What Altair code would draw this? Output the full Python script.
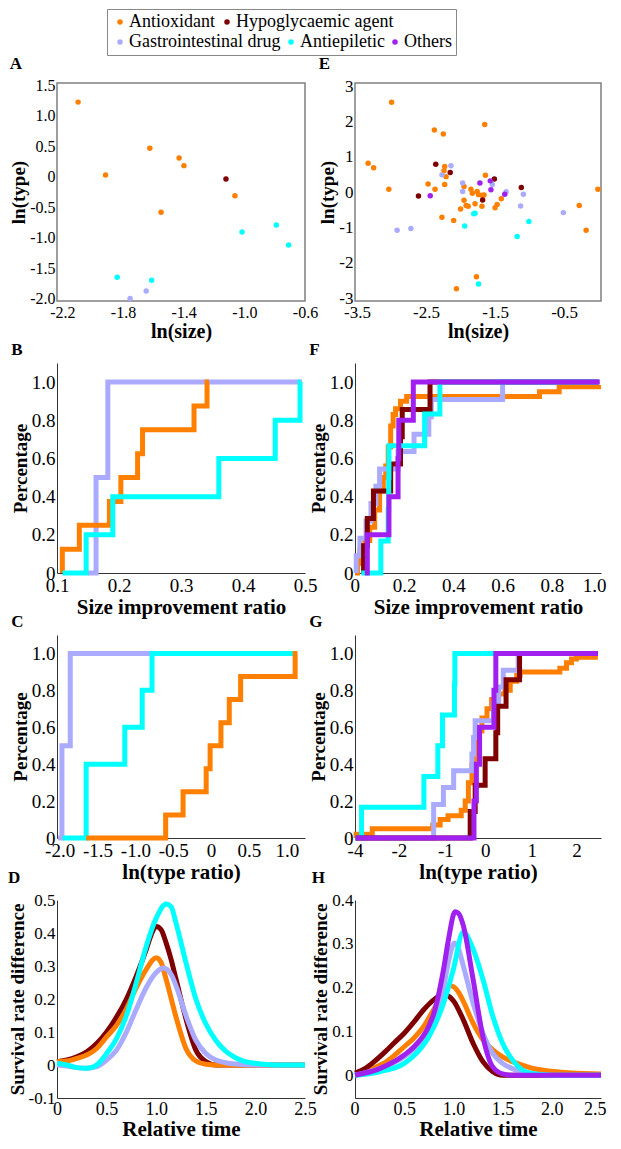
import altair as alt
import pandas as pd

FONT = "Liberation Serif"

# ---------------- categories / colours ----------------
ROW1_CATS = ["Antioxidant", "Hypoglycaemic agent"]
ROW1_COLORS = ["#FF7F00", "#7F0000"]
ROW2_CATS = ["Gastrointestinal drug", "Antiepiletic", "Others"]
ROW2_COLORS = ["#AAAAFF", "#00FFFF", "#A020F0"]

# ---------------- panel A (scatter) ----------------
A_CAT = ["Antioxidant"] * 7 + ["Hypoglycaemic agent"] + ["Antiepiletic"] * 5 + ["Gastrointestinal drug"] * 2
A_X = [-2.096, -1.915, -1.623, -1.43, -1.398, -1.549, -1.062,
       -1.121,
       -1.015, -0.789, -0.708, -1.838, -1.611,
       -1.647, -1.753]
A_Y = [1.226, 0.03, 0.469, 0.31, 0.183, -0.584, -0.31,
       -0.036,
       -0.908, -0.793, -1.122, -1.649, -1.698,
       -1.874, -2.0]

# ---------------- panel E (scatter) ----------------
E_CAT = (["Antioxidant"] * 37 + ["Hypoglycaemic agent"] * 6 + ["Gastrointestinal drug"] * 11
         + ["Others"] * 5 + ["Antiepiletic"] * 6)
E_X = [-3.00, -1.65, -2.38, -2.25, -3.34, -3.26, -2.23, -2.24, -2.21, -1.64, -2.47, -2.37, -2.23,
       -3.04, -1.95, -1.85, -1.83, -1.76, -1.74, -1.69, -1.66, -1.95, -1.92, -1.89, -1.79, -1.69,
       -1.41, -1.47, -1.50, -2.00, -2.27, -2.10, -0.28, -0.18, -0.01, -1.77, -2.06,
       -2.36, -2.15, -2.61, -1.51, -1.12, -1.68,
       -2.14, -2.27, -1.97, -1.97, -1.54, -1.34, -1.09, -1.13, -0.51, -2.92, -2.72,
       -1.72, -1.57, -1.56, -1.36, -2.44,
       -1.81, -1.79, -1.94, -1.01, -1.18, -1.74]
E_Y = [2.55, 1.92, 1.76, 1.65, 0.82, 0.69, 0.73, 0.61, 0.44, 0.48, 0.23, 0.08, 0.22,
       0.08, 0.16, 0.08, -0.03, 0.02, -0.07, -0.09, -0.08, -0.23, -0.38, -0.40, -0.33, -0.40,
       -0.19, -0.35, -0.44, -0.48, -0.71, -0.80, -0.38, -1.08, 0.08, -2.40, -2.74,
       0.79, 0.56, -0.11, 0.37, 0.13, -0.22,
       0.75, 0.49, 0.26, 0.02, 0.22, 0.01, -0.06, -0.39, -0.58, -1.08, -1.03,
       0.26, 0.32, 0.07, -0.06, -0.10,
       -0.61, -0.60, -0.96, -0.83, -1.26, -2.60]

# ---------------- panel B (cumulative steps) ----------------
B_SERIES = [
    ("Gastrointestinal drug", [0.15, 0.163, 0.182, 0.495], [0, 0.5, 1.0, 1.0]),
    ("Antioxidant", [0.1086, 0.1086, 0.136, 0.1845, 0.203, 0.23, 0.238, 0.321, 0.342, 0.345],
     [0, 0.125, 0.25, 0.375, 0.5, 0.625, 0.75, 0.875, 1.0, 1.0]),
    ("Antiepiletic", [0.109, 0.147, 0.19, 0.361, 0.452, 0.492, 0.493], [0, 0.2, 0.4, 0.6, 0.8, 1.0, 1.0]),
]

# ---------------- panel F ----------------
F_SERIES = [
    ("Antioxidant", [0, 0.01, 0.02, 0.04, 0.06, 0.08, 0.1, 0.115, 0.125, 0.135, 0.145, 0.155, 0.165,
                     0.185, 0.21, 0.75, 0.83, 0.99],
     [0, 0.05, 0.12, 0.17, 0.24, 0.33, 0.43, 0.5, 0.56, 0.66, 0.77, 0.83, 0.86, 0.9, 0.925, 0.95, 0.975, 0.985]),
    ("Gastrointestinal drug", [0.005, 0.005, 0.02, 0.045, 0.065, 0.085, 0.1, 0.175, 0.24, 0.3, 0.31, 0.6, 0.99],
     [0, 0.091, 0.182, 0.273, 0.364, 0.455, 0.545, 0.636, 0.727, 0.818, 0.909, 1.0, 1.0]),
    ("Hypoglycaemic agent", [0.035, 0.035, 0.05, 0.075, 0.145, 0.185, 0.192, 0.305, 0.99],
     [0, 0.143, 0.286, 0.429, 0.571, 0.714, 0.857, 1.0, 1.0]),
    ("Antiepiletic", [0.026, 0.105, 0.135, 0.137, 0.138, 0.283, 0.345, 0.99],
     [0, 0.167, 0.333, 0.5, 0.667, 0.833, 1.0, 1.0]),
    ("Others", [0.04, 0.05, 0.138, 0.175, 0.178, 0.237, 0.995], [0, 0.2, 0.4, 0.6, 0.8, 1.0, 1.0]),
]

# ---------------- panel C ----------------
C_SERIES = [
    ("Gastrointestinal drug", [-2.02, -1.97, -1.86, 1.13], [0, 0.5, 1.0, 1.0]),
    ("Antiepiletic", [-1.96, -1.65, -1.14, -0.91, -0.78, 1.13], [0, 0.4, 0.6, 0.8, 1.0, 1.0]),
    ("Antioxidant", [-1.65, -0.6, -0.37, -0.065, -0.013, 0.13, 0.24, 0.39, 1.11, 1.14],
     [0, 0.125, 0.25, 0.375, 0.5, 0.625, 0.75, 0.875, 1.0, 1.0]),
]

# ---------------- panel G ----------------
G_SERIES = [
    ("Antioxidant", [-3.97, -3.95, -3.21, -1.27, -1.11, -0.93, -0.6, -0.5, -0.42, -0.33, -0.25, -0.17, -0.08,
                     0.04, 0.14, 0.29, 0.43, 0.54, 0.68, 0.75, 1.63, 1.78, 1.89, 2.0, 2.48],
     [0, 0.02, 0.05, 0.07, 0.1, 0.12, 0.15, 0.2, 0.3, 0.4, 0.5, 0.58, 0.65, 0.7, 0.75, 0.78, 0.8, 0.85,
      0.88, 0.9, 0.92, 0.95, 0.97, 0.98, 0.98]),
    ("Gastrointestinal drug", [-3.97, -1.25, -1.04, -0.79, -0.33, -0.29, -0.25, 0.18, 0.29, 0.39, 0.71, 2.48],
     [0, 0.182, 0.273, 0.364, 0.455, 0.545, 0.636, 0.727, 0.818, 0.909, 1.0, 1.0]),
    ("Antiepiletic", [-3.97, -3.7, -1.46, -1.16, -1.06, -0.77, -0.76, 2.48],
     [0, 0.167, 0.333, 0.5, 0.667, 0.833, 1.0, 1.0]),
    ("Hypoglycaemic agent", [-3.97, -0.375, -0.25, 0.0, 0.23, 0.27, 0.45, 0.74, 2.48],
     [0, 0.143, 0.286, 0.429, 0.571, 0.714, 0.857, 1.0, 1.0]),
    ("Others", [-3.97, -0.28, -0.22, -0.14, 0.19, 0.23, 2.48], [0, 0.2, 0.4, 0.6, 0.8, 1.0, 1.0]),
]

# ---------------- panel D (smooth curves) ----------------
D_SERIES = [
    ("Hypoglycaemic agent",
     [0, 0.1, 0.2, 0.3, 0.4, 0.5, 0.6, 0.7, 0.8, 0.9, 0.95, 1.0, 1.05, 1.1, 1.15, 1.2, 1.3, 1.4, 1.5, 1.6, 1.8, 2.5],
     [0.01, 0.015, 0.025, 0.04, 0.065, 0.1, 0.145, 0.2, 0.27, 0.35, 0.395, 0.42, 0.41, 0.37, 0.32, 0.26, 0.14,
      0.045, 0.01, 0.0, 0.0, 0.0]),
    ("Antioxidant",
     [0, 0.1, 0.2, 0.3, 0.4, 0.5, 0.6, 0.7, 0.8, 0.9, 1.0, 1.05, 1.1, 1.2, 1.3, 1.4, 1.5, 1.6, 2.5],
     [0.01, 0.012, 0.02, 0.03, 0.05, 0.085, 0.12, 0.17, 0.235, 0.29, 0.325, 0.31, 0.26, 0.145, 0.05, 0.012,
      0.002, 0.0, 0.0]),
    ("Gastrointestinal drug",
     [0, 0.1, 0.2, 0.3, 0.4, 0.5, 0.6, 0.7, 0.8, 0.9, 1.0, 1.07, 1.15, 1.2, 1.3, 1.4, 1.5, 1.6, 1.7, 1.8, 2.0, 2.5],
     [0.0, -0.003, -0.008, -0.01, -0.005, 0.015, 0.045, 0.1, 0.17, 0.235, 0.28, 0.294, 0.275, 0.24, 0.15, 0.075,
      0.035, 0.015, 0.007, 0.003, 0.0, 0.0]),
    ("Antiepiletic",
     [0, 0.1, 0.2, 0.3, 0.4, 0.5, 0.6, 0.7, 0.8, 0.9, 1.0, 1.1, 1.15, 1.2, 1.3, 1.4, 1.5, 1.6, 1.7, 1.8, 1.9,
      2.0, 2.2, 2.5],
     [0.005, 0.0, -0.008, -0.01, 0.0, 0.035, 0.08, 0.15, 0.25, 0.36, 0.445, 0.488, 0.48, 0.43, 0.31, 0.2, 0.125,
      0.075, 0.042, 0.022, 0.01, 0.005, 0.0, 0.0]),
]

# ---------------- panel H ----------------
H_SERIES = [
    ("Antioxidant",
     [0, 0.1, 0.2, 0.3, 0.4, 0.5, 0.6, 0.7, 0.8, 0.9, 0.97, 1.05, 1.1, 1.2, 1.3, 1.4, 1.5, 1.6, 1.7, 1.8, 2.0,
      2.2, 2.5],
     [0.005, 0.008, 0.018, 0.028, 0.045, 0.065, 0.085, 0.112, 0.15, 0.188, 0.204, 0.19, 0.169, 0.119, 0.081,
      0.058, 0.042, 0.031, 0.023, 0.016, 0.009, 0.005, 0.003]),
    ("Hypoglycaemic agent",
     [0, 0.1, 0.2, 0.3, 0.4, 0.5, 0.6, 0.7, 0.8, 0.9, 1.0, 1.1, 1.2, 1.3, 1.4, 1.5, 2.5],
     [0.005, 0.015, 0.032, 0.052, 0.074, 0.096, 0.122, 0.15, 0.172, 0.185, 0.17, 0.127, 0.073, 0.031, 0.008,
      0.0, 0.0]),
    ("Gastrointestinal drug",
     [0, 0.25, 0.5, 0.6, 0.7, 0.8, 0.9, 0.95, 1.01, 1.05, 1.1, 1.2, 1.3, 1.4, 1.5, 1.6, 1.7, 2.0, 2.5],
     [0.0, 0.015, 0.042, 0.06, 0.085, 0.13, 0.2, 0.26, 0.302, 0.29, 0.25, 0.165, 0.096, 0.05, 0.027, 0.015,
      0.008, 0.0, 0.0]),
    ("Antiepiletic",
     [0, 0.25, 0.5, 0.6, 0.75, 0.9, 1.0, 1.1, 1.2, 1.3, 1.4, 1.5, 1.6, 1.7, 1.8, 2.0, 2.5],
     [0.0, 0.008, 0.027, 0.045, 0.088, 0.165, 0.242, 0.327, 0.288, 0.219, 0.135, 0.073, 0.035, 0.012, 0.004,
      0.0, 0.0]),
    ("Others",
     [0, 0.25, 0.5, 0.6, 0.75, 0.8, 0.9, 0.95, 1.017, 1.05, 1.1, 1.2, 1.3, 1.4, 1.5, 1.6, 2.5],
     [0.0, 0.015, 0.046, 0.065, 0.112, 0.14, 0.242, 0.31, 0.373, 0.37, 0.342, 0.219, 0.088, 0.019, 0.003, 0.0,
      0.0]),
]

# ---------------- tick values ----------------
A_XTICKS = [-2.2, -1.8, -1.4, -1.0, -0.6]
A_YTICKS = [-2.0, -1.5, -1.0, -0.5, 0, 0.5, 1.0, 1.5]
E_XTICKS = [-3.5, -2.5, -1.5, -0.5]
E_YTICKS = [-3, -2, -1, 0, 1, 2, 3]
B_XTICKS = [0.1, 0.2, 0.3, 0.4, 0.5]
F_XTICKS = [0, 0.2, 0.4, 0.6, 0.8, 1.0]
PCT_TICKS = [0, 0.2, 0.4, 0.6, 0.8, 1.0]
C_XTICKS = [-2.0, -1.5, -1.0, -0.5, 0, 0.5, 1.0]
G_XTICKS = [-4, -2, -1, 0, 1, 2]
T_XTICKS = [0, 0.5, 1.0, 1.5, 2.0, 2.5]
D_YTICKS = [-0.1, 0, 0.1, 0.2, 0.3, 0.4, 0.5]
H_YTICKS = [0, 0.1, 0.2, 0.3, 0.4]

# G axis in the figure is not evenly spaced: break points of its scale
G_BREAKS = [-4, -2, -1, 0, 1, 2, 2.55]
G_FRACS = [0, 0.178, 0.367, 0.529, 0.718, 0.9, 1.0]

W1, W2 = 248, 246

ALL_CATS = ROW1_CATS + ROW2_CATS
ALL_COLORS = ROW1_COLORS + ROW2_COLORS
STROKE_SCALE = alt.Scale(domain=ALL_CATS, range=ALL_COLORS)


def axis(title, values, fmt, lsize=18, tsize=20, domain=True, tpad=1, lpad=2, flush=False):
    extra = dict(labelFlush=True, labelFlushOffset=5) if flush else dict(labelFlush=False)
    return alt.Axis(
        title=title, values=values,
        labelExpr=("datum.value == 0 ? '0' : (datum.value < 0 ? '-' : '') + format(abs(datum.value), '%s')" % fmt),
        ticks=False, grid=False, domain=domain, domainColor="#333333", domainWidth=1,
        labelFont=FONT, labelFontSize=lsize, labelColor="black", labelPadding=lpad,
        labelOverlap=False,
        titleFont=FONT, titleFontSize=tsize, titleFontWeight="bold", titleColor="black", titlePadding=tpad,
        **extra)


def letter(t):
    return alt.TitleParams(text=t, anchor="start", frame="bounds", font=FONT, fontSize=17,
                           fontWeight="bold", color="black", offset=4)


def lin(dom):
    return alt.Scale(domain=dom, nice=False, zero=False)


LX, LY = 50, -74
LEG_COMMON = dict(orient="none", legendX=LX, legendY=LY, direction="horizontal", symbolType="circle",
                  symbolSize=30, symbolStrokeWidth=0, labelFont=FONT, labelFontSize=18,
                  labelColor="black", labelOffset=0, padding=4)
LEG1 = alt.Legend(title=None, columnPadding=3, **LEG_COMMON)
LEG2 = alt.Legend(title=" ", titleFont=FONT, titleFontSize=18, titlePadding=2, columnPadding=1,
                  strokeColor="#888888", **LEG_COMMON)


def scatter(cats, xs, ys, xscale, yscale, xaxis, yaxis, w, h, lab, with_legend=False):
    df = pd.DataFrame({"cat": cats, "x": xs, "y": ys})
    d1 = df[df["cat"].isin(ROW1_CATS)]
    d2 = df[df["cat"].isin(ROW2_CATS)]
    p1 = alt.Chart(d1).mark_circle(size=30, opacity=1).encode(
        x=alt.X("x:Q", scale=xscale, axis=xaxis),
        y=alt.Y("y:Q", scale=yscale, axis=yaxis),
        color=alt.Color("cat:N", scale=alt.Scale(domain=ROW1_CATS, range=ROW1_COLORS),
                        legend=LEG1 if with_legend else None),
    )
    p2 = alt.Chart(d2).mark_circle(size=30, opacity=1).encode(
        x=alt.X("x:Q", scale=xscale, axis=xaxis),
        y=alt.Y("y:Q", scale=yscale, axis=yaxis),
        fill=alt.Fill("cat:N", scale=alt.Scale(domain=ROW2_CATS, range=ROW2_COLORS),
                      legend=LEG2 if with_legend else None),
    )
    return alt.layer(p1, p2).properties(width=w, height=h, title=letter(lab),
                                        view=alt.ViewBackground(stroke="#808080", strokeWidth=1.5))


def lines(series, interp, xscale, yscale, xaxis, yaxis, w, h, lab):
    layers = []
    for cat, xs, ys in series:
        df = pd.DataFrame({"cat": [cat] * len(xs), "x": xs, "y": ys})
        layers.append(alt.Chart(df).mark_line(interpolate=interp, strokeWidth=5).encode(
            x=alt.X("x:Q", scale=xscale, axis=xaxis),
            y=alt.Y("y:Q", scale=yscale, axis=yaxis),
            stroke=alt.Stroke("cat:N", scale=STROKE_SCALE, legend=None),
        ))
    return alt.layer(*layers).properties(width=w, height=h, title=letter(lab))


A = scatter(A_CAT, A_X, A_Y, lin([-2.235, -0.6]), lin([-2.04, 1.54]),
            axis("ln(size)", A_XTICKS, ".1f", 16, 20, domain=False, lpad=3),
            axis("ln(type)", A_YTICKS, ".1f", 16, 19, domain=False), W1, 218, "A", True)
E = scatter(E_CAT, E_X, E_Y, lin([-3.53, 0.035]), lin([-3.085, 3.094]),
            axis("ln(size)", E_XTICKS, ".1f", 17, 20, domain=False, lpad=3),
            axis("ln(type)", E_YTICKS, ".0f", 17, 19, domain=False), W2, 218, "E")

B = lines(B_SERIES, "step-after", lin([0.1, 0.5]), lin([0, 1.1]),
          axis("Size improvement ratio", B_XTICKS, ".1f", 19, 21, lpad=3),
          axis("Percentage", PCT_TICKS, ".1f", 19, 19), W1, 210, "B")
F = lines(F_SERIES, "step-after", lin([0, 1.0]), lin([0, 1.1]),
          axis("Size improvement ratio", F_XTICKS, ".1f", 19, 21, lpad=3, flush=True),
          axis("Percentage", PCT_TICKS, ".1f", 19, 19), W2, 210, "F")

C = lines(C_SERIES, "step-after", lin([-2.035, 1.24]), lin([0, 1.1]),
          axis("ln(type ratio)", C_XTICKS, ".1f", 19, 21, lpad=3),
          axis("Percentage", PCT_TICKS, ".1f", 19, 19), W1, 203, "C")
G = lines(G_SERIES, "step-after",
          alt.Scale(domain=G_BREAKS, range=[f * W2 for f in G_FRACS], nice=False, zero=False),
          lin([0, 1.1]),
          axis("ln(type ratio)", G_XTICKS, ".0f", 19, 21, lpad=3),
          axis("Percentage", PCT_TICKS, ".1f", 19, 19), W2, 203, "G")

D = lines(D_SERIES, "monotone", lin([0, 2.5]), lin([-0.1, 0.5]),
          axis("Relative time", T_XTICKS, ".1f", 18, 21, tpad=0, lpad=2),
          axis("Survival rate difference", D_YTICKS, ".1f", 17, 19), W1, 198, "D")
H = lines(H_SERIES, "monotone", lin([0, 2.5]), lin([-0.052, 0.4]),
          axis("Relative time", T_XTICKS, ".1f", 18, 21, tpad=0, lpad=2, flush=True),
          axis("Survival rate difference", H_YTICKS, ".1f", 17, 19), W2, 198, "H")

chart = alt.concat(A, E, B, F, C, G, D, H, columns=2, bounds="flush",
                   spacing={"row": 62, "column": 50}).properties(
    padding=0
).configure_view(stroke=None)

chart.save("out.html", embed_options={"renderer": "svg", "actions": False})
